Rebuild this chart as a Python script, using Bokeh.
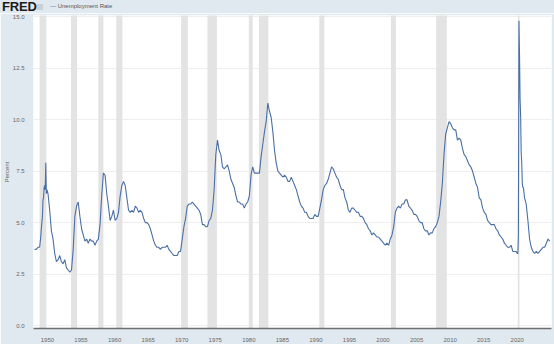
from bokeh.plotting import figure
from bokeh.models import Range1d, FixedTicker, ColumnDataSource, Div, CustomJSTickFormatter
from bokeh.layouts import column
from bokeh.embed import file_html
from bokeh.resources import INLINE

# ---- data ----
years = list(range(1948, 2025))
unrate_quarterly = [
    [3.7, 3.7, 3.8, 3.8],   # 1948
    [4.7, 5.9, 6.7, 7.0],   # 1949 (monthly detail below)
    [6.4, 5.6, 4.6, 4.2],   # 1950
    [3.5, 3.1, 3.2, 3.4],
    [3.1, 3.0, 3.2, 2.8],
    [2.7, 2.6, 2.7, 3.7],
    [5.3, 5.8, 6.0, 5.3],
    [4.7, 4.4, 4.1, 4.2],   # 1955
    [4.0, 4.2, 4.1, 4.1],
    [3.9, 4.1, 4.2, 4.9],
    [6.3, 7.4, 7.3, 6.4],
    [5.8, 5.1, 5.3, 5.6],
    [5.1, 5.2, 5.5, 6.3],   # 1960
    [6.8, 7.0, 6.8, 6.2],
    [5.6, 5.5, 5.6, 5.5],
    [5.8, 5.7, 5.5, 5.6],
    [5.5, 5.2, 5.0, 5.0],
    [4.9, 4.7, 4.4, 4.1],   # 1965
    [3.9, 3.8, 3.8, 3.7],
    [3.8, 3.8, 3.8, 3.9],
    [3.7, 3.6, 3.5, 3.4],
    [3.4, 3.4, 3.6, 3.6],
    [4.2, 4.8, 5.2, 5.8],   # 1970
    [5.9, 5.9, 6.0, 5.9],
    [5.8, 5.7, 5.6, 5.4],
    [4.9, 4.9, 4.8, 4.8],
    [5.1, 5.2, 5.6, 6.6],
    [8.3, 9.0, 8.5, 8.3],   # 1975
    [7.7, 7.6, 7.7, 7.8],
    [7.5, 7.1, 6.9, 6.7],
    [6.3, 6.0, 6.0, 5.9],
    [5.9, 5.7, 5.9, 6.0],
    [6.3, 7.3, 7.7, 7.4],   # 1980
    [7.4, 7.4, 7.4, 8.2],
    [8.8, 9.4, 9.9, 10.8],
    [10.4, 10.1, 9.4, 8.5],
    [7.9, 7.5, 7.4, 7.3],
    [7.2, 7.3, 7.2, 7.0],   # 1985
    [7.0, 7.2, 7.0, 6.8],
    [6.6, 6.3, 6.0, 5.8],
    [5.7, 5.5, 5.5, 5.3],
    [5.2, 5.2, 5.2, 5.4],
    [5.3, 5.3, 5.7, 6.1],   # 1990
    [6.6, 6.8, 6.9, 7.1],
    [7.4, 7.7, 7.6, 7.4],
    [7.2, 7.1, 6.8, 6.6],
    [6.6, 6.2, 6.0, 5.6],
    [5.5, 5.7, 5.7, 5.6],   # 1995
    [5.5, 5.5, 5.3, 5.3],
    [5.2, 5.0, 4.9, 4.7],
    [4.6, 4.4, 4.5, 4.4],
    [4.3, 4.3, 4.2, 4.1],
    [4.0, 3.9, 4.0, 3.9],   # 2000
    [4.2, 4.4, 4.8, 5.5],
    [5.7, 5.8, 5.7, 5.9],
    [5.9, 6.1, 6.1, 5.8],
    [5.7, 5.6, 5.4, 5.4],
    [5.3, 5.1, 5.0, 5.0],   # 2005
    [4.7, 4.6, 4.6, 4.4],
    [4.5, 4.5, 4.7, 4.8],
    [5.0, 5.3, 6.0, 6.9],
    [8.3, 9.3, 9.6, 9.9],
    [9.8, 9.6, 9.5, 9.5],   # 2010
    [9.0, 9.1, 9.0, 8.6],
    [8.3, 8.2, 8.0, 7.8],
    [7.7, 7.5, 7.2, 6.9],
    [6.7, 6.2, 6.1, 5.7],
    [5.5, 5.4, 5.1, 5.0],   # 2015
    [4.9, 4.9, 4.9, 4.7],
    [4.6, 4.4, 4.3, 4.2],
    [4.0, 3.9, 3.8, 3.8],
    [3.9, 3.6, 3.6, 3.6],
    [3.5, 13.0, 8.8, 6.8],  # 2020 (monthly detail below)
    [6.2, 5.9, 5.1, 4.2],
    [3.8, 3.6, 3.5, 3.6],
    [3.5, 3.6, 3.7, 3.8],
    [3.8, 4.0, 4.2, 4.1],   # 2024
]
unrate_1949_monthly = [4.3, 4.7, 5.0, 5.3, 6.1, 6.2, 6.7, 6.8, 6.6, 7.9, 6.4, 6.6]
unrate_2020_monthly = [3.5, 3.5, 4.4, 14.8, 13.2, 11.0, 10.2, 8.4, 7.9, 6.9, 6.7, 6.7]

rec_start = ["1948-11", "1953-07", "1957-08", "1960-04", "1969-12", "1973-11",
             "1980-01", "1981-07", "1990-07", "2001-03", "2007-12", "2020-02"]
rec_end = ["1949-10", "1954-05", "1958-04", "1961-02", "1970-11", "1975-03",
           "1980-07", "1982-11", "1991-03", "2001-11", "2009-06", "2020-04"]

x_ticks = [1950, 1955, 1960, 1965, 1970, 1975, 1980, 1985, 1990, 1995,
           2000, 2005, 2010, 2015, 2020]
y_ticks = [0.0, 2.5, 5.0, 7.5, 10.0, 12.5, 15.0]
series_name = "Unemployment Rate"

# ---- build series ----
monthly_detail = {1949: unrate_1949_monthly, 2020: unrate_2020_monthly}
xs, ys = [], []
for yr, q in zip(years, unrate_quarterly):
    if yr in monthly_detail:
        for m, v in enumerate(monthly_detail[yr]):
            xs.append(yr + m / 12.0)
            ys.append(v)
    else:
        for i, v in enumerate(q):
            xs.append(yr + (3 * i + 1) / 12.0)
            ys.append(v)


def dec(s):
    y, m = s.split("-")
    return int(y) + (int(m) - 1) / 12.0


rec_src = ColumnDataSource(dict(left=[dec(s) for s in rec_start],
                                right=[dec(s) + 1 / 12.0 for s in rec_end]))

BG = "#e1e9f0"
FONT = "Liberation Sans"
LINE = "#4a6fa5"

HEADER_H = 13
p = figure(width=554, height=344 - HEADER_H, output_backend="svg", toolbar_location=None,
           x_range=Range1d(1947.92, 2025.1), y_range=Range1d(-0.14, 15.05),
           min_border_left=33, min_border_right=3, min_border_top=2,
           min_border_bottom=12)
p.background_fill_color = "white"
p.border_fill_color = BG
p.outline_line_color = None

p.quad(left="left", right="right", bottom=-1, top=16, source=rec_src,
       fill_color="#e3e3e3", line_color=None)
p.line(xs, ys, line_color=LINE, line_width=1.1)

# axes
p.xaxis.ticker = FixedTicker(ticks=x_ticks)
p.yaxis.ticker = FixedTicker(ticks=y_ticks)
p.yaxis.formatter = CustomJSTickFormatter(code="return tick.toFixed(1);")

for ax in (p.xaxis, p.yaxis):
    ax.major_label_text_font = FONT
    ax.major_label_text_font_size = "6px"
    ax.major_label_text_color = "#666666"
    ax.major_tick_line_color = None
    ax.minor_tick_line_color = None

p.xaxis.axis_line_color = "#6e6e6e"
p.xaxis.axis_line_width = 1.6
p.xaxis.major_label_standoff = 3
p.yaxis.axis_line_color = None
p.yaxis.major_label_standoff = 3
p.yaxis.axis_label = "Percent"
p.yaxis.axis_label_text_font = FONT
p.yaxis.axis_label_text_font_size = "6px"
p.yaxis.axis_label_text_font_style = "normal"
p.yaxis.axis_label_text_color = "#666666"
p.yaxis.axis_label_standoff = 0

p.xgrid.grid_line_color = None
p.ygrid.grid_line_color = "#eeeeee"
p.ygrid.grid_line_width = 1

header_html = (
    f'<div style="position:relative;width:554px;height:{HEADER_H}px;background:{BG};'
    f'font-family:\'{FONT}\';overflow:visible;">'
    '<span style="position:absolute;left:2px;top:0px;font-weight:bold;font-size:13px;'
    'line-height:13px;color:#1a1a1a;letter-spacing:-0.2px;">FRED</span>'
    '<span style="position:absolute;left:37px;top:4px;width:6px;height:6px;'
    'background:#c9d0d6;"></span>'
    f'<span style="position:absolute;left:50px;top:3px;font-size:6px;line-height:7px;'
    f'color:#555;white-space:nowrap;"><span style="color:{LINE};">—</span> {series_name}</span>'
    '</div>'
)
header = Div(text=header_html, width=554, height=HEADER_H,
             styles={"background-color": BG, "margin": "0", "padding": "0"})

layout = column(header, p, spacing=0)
open("out.html", "w").write(file_html(layout, INLINE))
